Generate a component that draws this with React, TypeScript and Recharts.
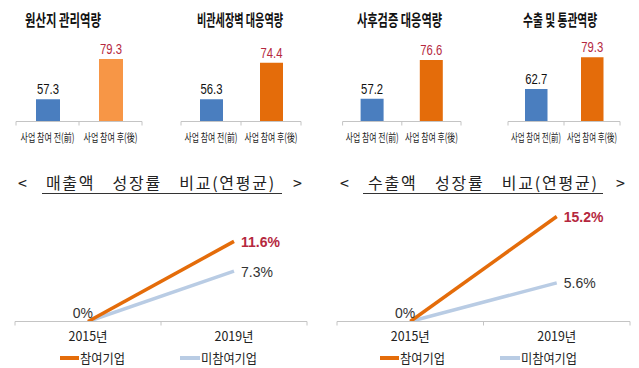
import React from 'react';
import { BarChart, Bar, XAxis, YAxis, LabelList, Cell, LineChart, Line, Legend } from 'recharts';

// ---------- data ----------
const barCategories = ['사업 참여 전(前)', '사업 참여 후(後)'];
const panelTitles = ['원산지 관리역량', '비관세장벽 대응역량', '사후검증 대응역량', '수출 및 통관역량'];
const beforeValues = [57.3, 56.3, 57.2, 62.7];
const afterValues = [79.3, 74.4, 76.6, 79.3];
const panelDomains = [
  [45.2, 89.7],
  [45.3, 85.6],
  [45.8, 86.65],
  [45.7, 88.4],
];

const years = ['2015년', '2019년'];
const salesParticipants = [0, 11.6];
const salesNonParticipants = [0, 7.3];
const exportParticipants = [0, 15.2];
const exportNonParticipants = [0, 5.6];
const lineTitles = ['< 매출액 성장률 비교(연평균) >', '< 수출액 성장률 비교(연평균) >'];
const seriesNames = ['참여기업', '미참여기업'];
const lineDomain = [0, 16];

// ---------- styles / layout ----------
const KR = '"Noto Sans CJK KR", "Noto Sans", sans-serif';
const NUM = '"Liberation Sans", Arial, sans-serif';
const AXIS = '#C4C4C4';
const BLUE = '#4A7EBF';
const ORANGE = '#E46C0A';
const LIGHT_ORANGE = '#F79646';
const LIGHT_BLUE = '#B9CCE4';
const RED_TEXT = '#B5283E';
const TEXT = '#222222';

const panelLayout = [
  { left: 0, axisL: 16, axisR: 142, titleX: 63, titleW: 76, orange: LIGHT_ORANGE, barSize: 24, catW: 54 },
  { left: 160, axisL: 181, axisR: 301, titleX: 240, titleW: 86, orange: ORANGE, barSize: 23, catW: 53 },
  { left: 320, axisL: 342.6, axisR: 461, titleX: 399.5, titleW: 85, orange: ORANGE, barSize: 23, catW: 53 },
  { left: 480, axisL: 508, axisR: 620, titleX: 560, titleW: 74, orange: ORANGE, barSize: 22.5, catW: 50 },
];

const lineLayout = [
  { left: 0, axisL: 15, axisR: 307, titleX: 160, titleW: 284, ulL: 42, ulR: 282 },
  { left: 320, axisL: 337, axisR: 630, titleX: 482.5, titleW: 285, ulL: 363, ulR: 603 },
];

// Horizontally condensed text (the reference is squeezed sideways)
const SqText = (props: any) => {
  const { x, y, w, s, anchor = 'middle', children, ...rest } = props;
  return (
    <text
      transform={`translate(${x},${y}) scale(${s},1)`}
      x={0}
      y={0}
      textAnchor={anchor}
      dominantBaseline="central"
      textLength={w / s}
      lengthAdjust="spacingAndGlyphs"
      {...rest}
    >
      {children}
    </text>
  );
};

// ---------- bar panel pieces ----------
const CatTick = (props: any) => {
  const { x, y, payload, index, half, catW } = props;
  return (
    <g>
      {index === 0 && <line x1={x - half} x2={x - half} y1={y} y2={y + 4} stroke={AXIS} />}
      <line x1={x + half} x2={x + half} y1={y} y2={y + 4} stroke={AXIS} />
      <SqText x={x} y={y + 15.5} w={catW} s={0.64} fontFamily={KR} fontSize={11.5} fill={TEXT}>
        {payload.value}
      </SqText>
    </g>
  );
};

const ValueLabel = (props: any) => {
  const { x, y, width, value, index } = props;
  return (
    <SqText
      x={x + width / 2}
      y={y - 9.5}
      w={22}
      s={0.8}
      fontFamily={NUM}
      fontSize={14}
      fill={index === 0 ? '#111111' : RED_TEXT}
    >
      {Number(value).toFixed(1)}
    </SqText>
  );
};

function BarPanel({ i }: { i: number }) {
  const L = panelLayout[i];
  const data = barCategories.map((c, k) => ({ cat: c, v: k === 0 ? beforeValues[i] : afterValues[i] }));
  const half = (L.axisR - L.axisL) / 4;
  return (
    <div style={{ position: 'absolute', left: L.left, top: 0 }}>
      <BarChart
        width={160}
        height={150}
        data={data}
        margin={{ top: 40, bottom: 0, left: L.axisL - L.left, right: L.left + 160 - L.axisR }}
      >
        <XAxis
          dataKey="cat"
          axisLine={{ stroke: AXIS }}
          tickLine={false}
          tickSize={0}
          tickMargin={0}
          height={28.5}
          interval={0}
          tick={(p: any) => <CatTick {...p} half={half} catW={L.catW} />}
        />
        <YAxis hide type="number" domain={panelDomains[i]} allowDataOverflow />
        <Bar dataKey="v" barSize={L.barSize} isAnimationActive={false}>
          {data.map((d, k) => (
            <Cell key={k} fill={k === 0 ? BLUE : L.orange} />
          ))}
          <LabelList dataKey="v" content={(p: any) => <ValueLabel {...p} />} />
        </Bar>
      </BarChart>
    </div>
  );
}

// ---------- line panel pieces ----------
const YearTick = (props: any) => {
  const { x, y, payload, index, half } = props;
  return (
    <g>
      {index === 0 && <line x1={x - half} x2={x - half} y1={y} y2={y + 4} stroke={AXIS} />}
      <line x1={x + half} x2={x + half} y1={y} y2={y + 4} stroke={AXIS} />
      <SqText x={x} y={y + 13.5} w={39} s={0.94} fontFamily={KR} fontSize={13} fill={TEXT}>
        {payload.value}
      </SqText>
    </g>
  );
};

const ParticipantLabel = (props: any) => {
  const { x, y, value, index } = props;
  if (index === 0) {
    return (
      <text x={x + 5} y={y - 8.5} textAnchor="end" dominantBaseline="central" fontFamily={NUM} fontSize={14} fill="#333333">
        {`${value}%`}
      </text>
    );
  }
  return (
    <text x={x + 7} y={y + 0.5} textAnchor="start" dominantBaseline="central" fontFamily={NUM} fontSize={14} fontWeight={700} fill={RED_TEXT}>
      {`${value}%`}
    </text>
  );
};

const NonParticipantLabel = (props: any) => {
  const { x, y, value, index } = props;
  if (index === 0) return null;
  return (
    <text x={x + 7} y={y + 0.5} textAnchor="start" dominantBaseline="central" fontFamily={NUM} fontSize={14} fill="#333333">
      {`${value}%`}
    </text>
  );
};

const LineLegend = () => (
  <svg width={320} height={24} style={{ display: 'block' }}>
    <line x1={60} x2={79} y1={12} y2={12} stroke={ORANGE} strokeWidth={4} />
    <SqText x={80} y={12} w={45} s={0.87} anchor="start" fontFamily={KR} fontSize={13} fill={TEXT}>
      {seriesNames[0]}
    </SqText>
    <line x1={180} x2={200} y1={12} y2={12} stroke={LIGHT_BLUE} strokeWidth={4} />
    <SqText x={201} y={12} w={56} s={0.87} anchor="start" fontFamily={KR} fontSize={13} fill={TEXT}>
      {seriesNames[1]}
    </SqText>
  </svg>
);

function LinePanel({ j }: { j: number }) {
  const L = lineLayout[j];
  const part = j === 0 ? salesParticipants : exportParticipants;
  const non = j === 0 ? salesNonParticipants : exportNonParticipants;
  const data = years.map((yr, k) => ({ year: yr, p: part[k], n: non[k] }));
  const half = (L.axisR - L.axisL) / 4;
  return (
    <div style={{ position: 'absolute', left: L.left, top: 160 }}>
      <LineChart
        width={320}
        height={208}
        data={data}
        margin={{ top: 51, bottom: 0.5, left: L.axisL - L.left, right: L.left + 320 - L.axisR }}
      >
        <XAxis
          dataKey="year"
          padding={{ left: half, right: half }}
          axisLine={{ stroke: AXIS }}
          tickLine={false}
          tickSize={0}
          tickMargin={0}
          height={22}
          interval={0}
          tick={(p: any) => <YearTick {...p} half={half} />}
        />
        <YAxis hide type="number" domain={lineDomain} allowDataOverflow />
        <Legend
          verticalAlign="bottom"
          height={24}
          wrapperStyle={{ left: 0, width: 320, bottom: -2 }}
          content={() => <LineLegend />}
        />
        <Line
          dataKey="n"
          name={seriesNames[1]}
          stroke={LIGHT_BLUE}
          strokeWidth={3.5}
          dot={false}
          activeDot={false}
          isAnimationActive={false}
        >
          <LabelList dataKey="n" content={(p: any) => <NonParticipantLabel {...p} />} />
        </Line>
        <Line
          dataKey="p"
          name={seriesNames[0]}
          stroke={ORANGE}
          strokeWidth={3.5}
          dot={false}
          activeDot={false}
          isAnimationActive={false}
        >
          <LabelList dataKey="p" content={(p: any) => <ParticipantLabel {...p} />} />
        </Line>
      </LineChart>
    </div>
  );
}

export default function App() {
  return (
    <div
      style={{
        position: 'fixed',
        left: 0,
        top: 0,
        width: 639,
        height: 368,
        background: '#ffffff',
        overflow: 'hidden',
      }}
    >
      {panelTitles.map((_, i) => (
        <BarPanel key={i} i={i} />
      ))}
      {lineTitles.map((_, j) => (
        <LinePanel key={j} j={j} />
      ))}
      <svg width={639} height={368} style={{ position: 'absolute', left: 0, top: 0, pointerEvents: 'none' }}>
        {panelTitles.map((t, i) => (
          <SqText
            key={t}
            x={panelLayout[i].titleX}
            y={19.5}
            w={panelLayout[i].titleW}
            s={0.62}
            fontFamily={KR}
            fontSize={16}
            fontWeight={700}
            fill="#111111"
          >
            {t}
          </SqText>
        ))}
        {lineTitles.map((t, j) => (
          <g key={t}>
            <text
              x={lineLayout[j].titleX}
              y={182}
              textAnchor="middle"
              dominantBaseline="central"
              fontFamily={KR}
              fontSize={16}
              fill="#222222"
              style={{ wordSpacing: 12 }}
              textLength={lineLayout[j].titleW}
              lengthAdjust="spacing"
            >
              {t}
            </text>
            <line x1={lineLayout[j].ulL} x2={lineLayout[j].ulR} y1={193.5} y2={193.5} stroke="#333333" strokeWidth={1} />
          </g>
        ))}
      </svg>
    </div>
  );
}
